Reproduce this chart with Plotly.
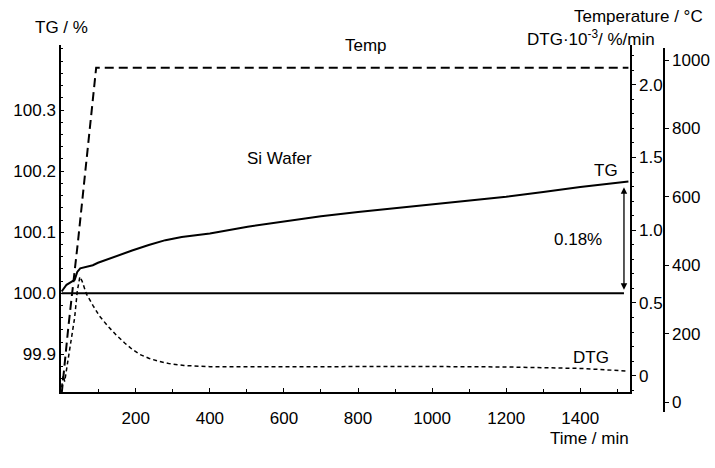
import plotly.graph_objects as go

# ---- data ----
tg_time = [0, 13, 35, 42, 50, 70, 84, 98, 120, 147, 190, 235, 280, 324, 400, 502,
           600, 700, 800, 900, 1000, 1100, 1200, 1300, 1400, 1530]
tg_val = [100.003, 100.014, 100.022, 100.035, 100.041, 100.044, 100.046, 100.050,
          100.055, 100.060, 100.070, 100.079, 100.087, 100.092, 100.098, 100.109,
          100.118, 100.126, 100.133, 100.139, 100.146, 100.151, 100.158, 100.166,
          100.174, 100.183]

temp_time = [0, 18, 44, 70, 93, 1530]
temp_val = [25, 220, 470, 730, 977, 977]

dtg_time = [0, 4, 8, 15, 25, 35, 42, 49, 55, 67, 85, 102, 125, 147, 170, 191, 212,
            235, 260, 290, 330, 400, 600, 800, 1000, 1200, 1400, 1530]
dtg_val = [-0.08, 0.0, -0.04, 0.08, 0.22, 0.40, 0.58, 0.68, 0.65, 0.56, 0.48, 0.41,
           0.34, 0.28, 0.225, 0.18, 0.145, 0.12, 0.10, 0.083, 0.07, 0.062, 0.062,
           0.065, 0.063, 0.060, 0.050, 0.032]

base_time = [0, 1518]
base_val = [100.0, 100.0]

x_ticks = [200, 400, 600, 800, 1000, 1200, 1400]
tg_ticks = [99.9, 100.0, 100.1, 100.2, 100.3]
dtg_ticks = [0, 0.5, 1.0, 1.5, 2.0]
dtg_ticktext = ["0", "0.5", "1.0", "1.5", "2.0"]
temp_ticks = [0, 200, 400, 600, 800, 1000]

mass_change_label = "0.18%"
arrow_time = 1518
arrow_top = 100.176
arrow_bottom = 100.006

FONT = "Arial, Liberation Sans, sans-serif"
FS = 17

fig = go.Figure()
fig.add_trace(go.Scatter(x=tg_time, y=tg_val, mode="lines",
                         line=dict(color="black", width=2), xaxis="x", yaxis="y"))
fig.add_trace(go.Scatter(x=base_time, y=base_val, mode="lines",
                         line=dict(color="black", width=2), xaxis="x", yaxis="y"))
fig.add_trace(go.Scatter(x=dtg_time, y=dtg_val, mode="lines",
                         line=dict(color="black", width=1.5, dash="4px,3px"),
                         xaxis="x", yaxis="y2"))
fig.add_trace(go.Scatter(x=temp_time, y=temp_val, mode="lines",
                         line=dict(color="black", width=2, dash="9px,5px"),
                         xaxis="x", yaxis="y3", cliponaxis=False))

W, H = 715, 468
pt, pb = 40, 54
ph = H - pt - pb
ml, mr = 61, 5
pw = W - ml - mr

def py(ypix):
    return (H - pb - ypix) / ph

def px(xpix):
    return (xpix - ml) / pw

main_dom = [py(392), py(45)]
axis_common = dict(showgrid=False, zeroline=False, linecolor="black", linewidth=1.5,
                   showline=True, tickcolor="black",
                   tickfont=dict(family=FONT, size=FS, color="black"))

fig.update_layout(
    width=W, height=H,
    margin=dict(l=ml, r=mr, t=pt, b=pb),
    paper_bgcolor="white", plot_bgcolor="rgba(0,0,0,0)",
    showlegend=False,
    font=dict(family=FONT, size=FS, color="black"),
    xaxis=dict(domain=[0, px(637)], range=[-1.9, 1534], tickvals=x_ticks,
               ticks="inside", ticklen=4, anchor="y", ticklabelstandoff=10,
               minor=dict(dtick=100, tick0=0, ticks="inside", ticklen=3, tickcolor="black"),
               **axis_common),
    yaxis=dict(domain=main_dom, range=[99.8385, 100.4064], tickvals=tg_ticks,
               tickformat=".1f", ticks="inside", ticklen=3, anchor="x",
               minor=dict(dtick=0.02, tick0=0, ticks="inside", ticklen=2, tickcolor="black"),
               **axis_common),
    yaxis2=dict(domain=main_dom, range=[-0.112, 2.2728], overlaying="y", side="right",
                anchor="x", tickvals=dtg_ticks, ticktext=dtg_ticktext,
                ticks="outside", ticklen=4,
                minor=dict(dtick=0.1, tick0=0, ticks="outside", ticklen=2, tickcolor="black"),
                **axis_common),
    yaxis3=dict(domain=[py(412), py(48)], range=[-29.2, 1035.1],
                side="right", anchor="free", position=px(671.5), tickvals=temp_ticks,
                ticks="outside", ticklen=4,
                **axis_common),
)

ann = [
    dict(text="TG / %", x=62, y=27),
    dict(text="Temperature / °C", x=713, y=17, xanchor="right"),
    dict(text="DTG·10<sup>-3</sup>/ %/min", x=598, y=38),
    dict(text="Temp", x=370, y=45),
    dict(text="Si Wafer", x=282, y=158),
    dict(text="TG", x=613, y=171),
    dict(text="DTG", x=598, y=357),
    dict(text=mass_change_label, x=584, y=240),
    dict(text="Time / min", x=596, y=438),
]
for a in ann:
    fig.add_annotation(text=a["text"], x=px(a["x"]), y=py(a["y"]),
                       xref="paper", yref="paper", xanchor=a.get("xanchor", "center"),
                       yanchor="middle", showarrow=False,
                       font=dict(family=FONT, size=FS, color="black"))

fig.add_annotation(x=arrow_time, y=arrow_bottom, ax=arrow_time, ay=arrow_top,
                   xref="x", yref="y", axref="x", ayref="y",
                   showarrow=True, arrowhead=2, startarrowhead=2, arrowside="end+start",
                   arrowsize=1, arrowwidth=1.3, arrowcolor="black", text="")

fig.write_html("out.html")
